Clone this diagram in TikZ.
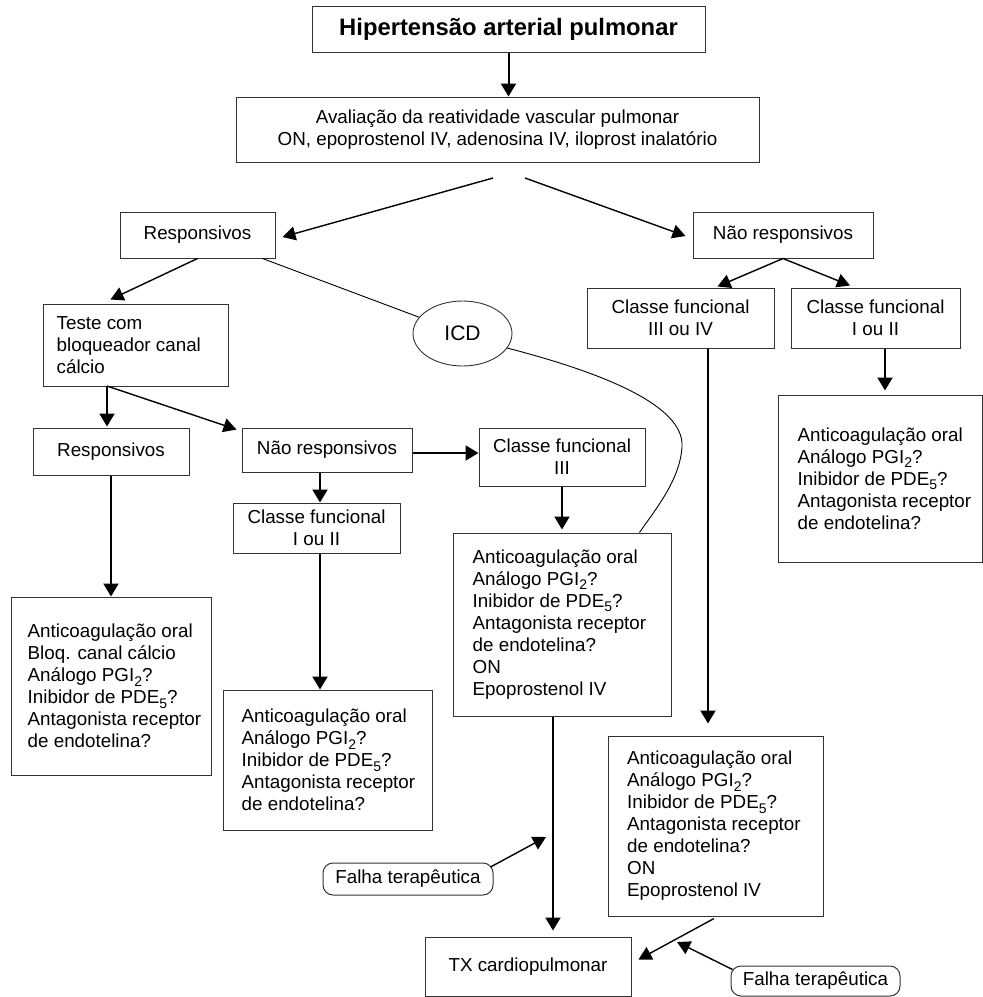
\documentclass[tikz,border=0pt]{standalone}
\usepackage{fontspec}
\setmainfont{Liberation Sans}
\usetikzlibrary{arrows.meta,shapes.geometric,calc}
\newcommand\lowidx[1]{\raisebox{-0.45ex}{\fontsize{14}{14}\selectfont #1}}
\begin{document}
\begin{tikzpicture}[x=1pt,y=-1pt,
  font=\fontsize{18.8}{22}\selectfont,
  box/.style={draw=black!80, line width=1pt, inner sep=0pt, align=center},
  txt/.style={anchor=west, align=left, inner sep=0pt},
  fbox/.style={box, rounded corners=10pt},
  arr/.style={line width=2pt, -{Triangle[length=13pt,width=15pt]}},
  darr/.style={line width=1.4pt, -{Triangle[length=13pt,width=14pt]}},
  thinline/.style={line width=0.9pt}]
\path[use as bounding box, fill=white] (0,0) rectangle (983,997);

\node[box, minimum width=393pt, minimum height=46pt, font=\bfseries\fontsize{23.8}{26}\selectfont] (title) at (508.5,29) {Hipertensão arterial pulmonar};
\node[box, minimum width=523pt, minimum height=65pt] (aval) at (497.5,129.5) {Avaliação da reatividade vascular pulmonar\\ON, epoprostenol IV, adenosina IV, iloprost inalatório};
\node[box, minimum width=155pt, minimum height=46pt] (resp) at (197.5,235) {Responsivos};
\node[box, minimum width=180pt, minimum height=46pt] (nresp) at (783,235) {Não responsivos};
\node[box, minimum width=185pt, minimum height=82pt] (teste) at (135.5,345) {};
\node[txt] (testet) at ($(teste.west)+(14,0)$) {Teste com\\bloqueador canal\\cálcio};
\node[draw=black!80, line width=0.9pt, ellipse, minimum width=99pt, minimum height=65pt, inner sep=0pt, font=\fontsize{21}{24}\selectfont] (icd) at (462.5,333.5) {ICD};
\node[box, minimum width=156pt, minimum height=47pt] (resp2) at (111,451.5) {Responsivos};
\node[box, minimum width=170pt, minimum height=44pt] (nresp2) at (327,450) {Não responsivos};
\node[box, minimum width=166pt, minimum height=58pt] (cf3) at (562,457) {Classe funcional\\III};
\node[box, minimum width=167pt, minimum height=50pt] (cf12m) at (316.5,528) {Classe funcional\\I ou II};
\node[box, minimum width=187pt, minimum height=60pt] (cf34) at (680.5,318) {Classe funcional\\III ou IV};
\node[box, minimum width=169pt, minimum height=60pt] (cf12r) at (875.5,318) {Classe funcional\\I ou II};

\node[box, minimum width=200pt, minimum height=178pt] (ac1) at (111,686) {};
\node[txt] (ac1t) at ($(ac1.west)+(17,0)$) {Anticoagulação oral\\Bloq. canal cálcio\\Análogo PGI\lowidx{2}?\\Inibidor de PDE\lowidx{5}?\\Antagonista receptor\\de endotelina?};
\node[box, minimum width=209pt, minimum height=140pt] (ac2) at (327.5,760) {};
\node[txt] (ac2t) at ($(ac2.west)+(19,0)$) {Anticoagulação oral\\Análogo PGI\lowidx{2}?\\Inibidor de PDE\lowidx{5}?\\Antagonista receptor\\de endotelina?};
\node[box, minimum width=218pt, minimum height=183pt] (ac3) at (562,624.5) {};
\node[txt] (ac3t) at ($(ac3.west)+(20,0)$) {Anticoagulação oral\\Análogo PGI\lowidx{2}?\\Inibidor de PDE\lowidx{5}?\\Antagonista receptor\\de endotelina?\\ON\\Epoprostenol IV};
\node[box, minimum width=204pt, minimum height=167pt] (ac4) at (880,478.5) {};
\node[txt] (ac4t) at ($(ac4.west)+(20,0)$) {Anticoagulação oral\\Análogo PGI\lowidx{2}?\\Inibidor de PDE\lowidx{5}?\\Antagonista receptor\\de endotelina?};
\node[box, minimum width=215pt, minimum height=180pt] (ac5) at (715.5,826) {};
\node[txt] (ac5t) at ($(ac5.west)+(19.5,0)$) {Anticoagulação oral\\Análogo PGI\lowidx{2}?\\Inibidor de PDE\lowidx{5}?\\Antagonista receptor\\de endotelina?\\ON\\Epoprostenol IV};
\node[box, minimum width=206pt, minimum height=59pt] (tx) at (528,966.5) {TX cardiopulmonar};
\node[fbox, minimum width=170pt, minimum height=32pt] (falha1) at (408,879) {Falha terapêutica};
\node[fbox, minimum width=169pt, minimum height=30pt] (falha2) at (815.5,981) {Falha terapêutica};

% connectors
\draw[arr] (title.south) -- (title.south |- aval.north);
\coordinate (a1) at (493,178);
\coordinate (a2) at (525,178);
\draw[darr] (a1) -- ($(resp.east)+(7,2)$);
\draw[darr] (a2) -- ($(nresp.west)+(-7,1)$);
\draw[darr] (resp.south) -- ($(teste.north)+(-25,-4)$);
\draw[thinline] ($(resp.south)+(65,0)$) -- (icd);
\draw[thinline] (icd.-18) .. controls (600,372) and (685,405) .. (682,447) .. controls (680,480) and (655,510) .. ($(ac3.north east)+(-32,0)$);
\coordinate (ts) at (107,386);
\draw[arr] (ts) -- ($(ts |- resp2.north)+(0,-1)$);
\draw[darr] (ts) -- ($(nresp2.north west)+(-5,2)$);
\draw[arr] ($(nresp2.east)+(0,3)$) -- ($(nresp2.east -| cf3.west)+(0,3)$);
\draw[arr] (cf3.south) -- ($(cf3.south |- ac3.north)+(0,-3)$);
\coordinate (n2s) at ($(nresp2.south)+(-7,0)$);
\draw[arr] (n2s) -- (n2s |- cf12m.north);
\coordinate (c12s) at ($(cf12m.south)+(3.5,0)$);
\draw[arr] (c12s) -- (c12s |- ac2.north);
\draw[arr] (resp2.south) -- (resp2.south |- ac1.north);
\coordinate (a3s) at ($(ac3.south)+(-9,0)$);
\draw[arr] (a3s) -- ($(a3s |- tx.north)+(0,-6)$);
\draw[darr] ($(falha1.east)+(-3,-12)$) -- (546,837);
\draw[darr] (nresp.south) -- ($(cf34.north)+(37,-1)$);
\draw[darr] (nresp.south) -- ($(cf12r.north)+(-25.5,-2)$);
\coordinate (c12r) at ($(cf12r.south)+(9.5,0)$);
\draw[arr] (c12r) -- ($(c12r |- ac4.north)+(0,-4)$);
\coordinate (c34) at ($(cf34.south)+(27.5,0)$);
\draw[arr] (c34) -- ($(c34 |- ac5.north)+(0,-12)$);
\draw[darr] ($(ac5.south)+(-1.5,2)$) -- ($(tx.east)+(7,-7)$);
\draw[darr] ($(falha2.north west)+(2,4)$) -- (677,942);
\end{tikzpicture}
\end{document}
